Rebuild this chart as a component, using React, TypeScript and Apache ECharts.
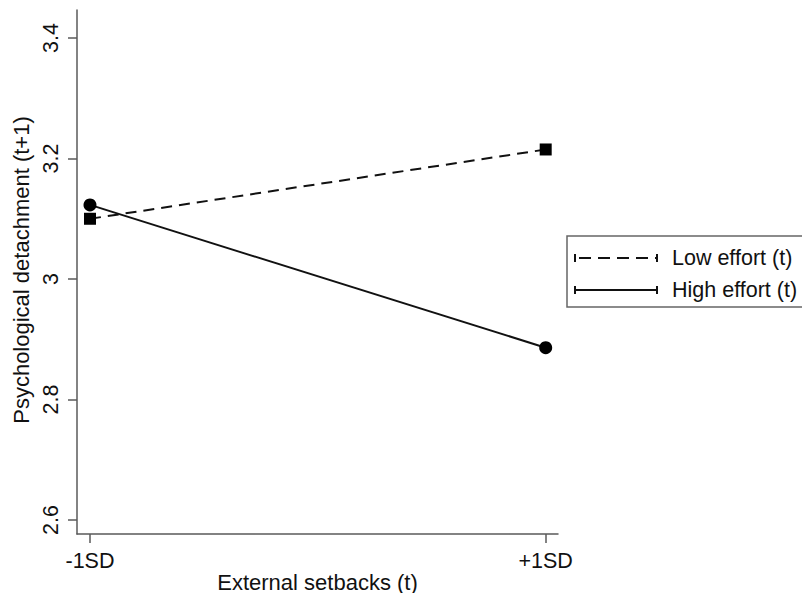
import React, { useEffect, useRef } from "react";
import * as echarts from "echarts";

const categories = ["-1SD", "+1SD"];
const xPositions = [-1, 1];
const yTicks = [2.6, 2.8, 3, 3.2, 3.4];
const lowEffort = [3.1, 3.215];
const highEffort = [3.123, 2.886];
const seriesNames = ["Low effort (t)", "High effort (t)"];

const FONT = "'Liberation Sans', Arial, sans-serif";
const AXIS_COLOR = "#5a5a5a";
const FS = 21.5;

export default function App() {
  const ref = useRef<HTMLDivElement>(null);
  useEffect(() => {
    if (!ref.current) return;
    const chart = echarts.init(ref.current, undefined, { renderer: "svg" });
    const lowData = xPositions.map((x, i) => [x, lowEffort[i]]);
    const highData = xPositions.map((x, i) => [x, highEffort[i]]);
    const legendX0 = 575;
    const legendX1 = 657;
    const legendRows = [258, 290];
    const capH = 8;
    const graphicEls: any[] = [
      {
        type: "rect",
        shape: { x: 567, y: 236, width: 250, height: 71 },
        style: { fill: "#fff", stroke: "#666", lineWidth: 1.5 },
        z: 10,
      },
    ];
    legendRows.forEach((y, i) => {
      graphicEls.push({
        type: "line",
        shape: { x1: legendX0, y1: y, x2: legendX1, y2: y },
        style: {
          stroke: "#111",
          lineWidth: 2,
          lineDash: i === 0 ? [12, 7] : null,
          lineDashOffset: i === 0 ? -4 : 0,
        },
        z: 11,
      });
      graphicEls.push({
        type: "line",
        shape: { x1: legendX0, y1: y - capH / 2, x2: legendX0, y2: y + capH / 2 },
        style: { stroke: "#111", lineWidth: 2 },
        z: 11,
      });
      graphicEls.push({
        type: "line",
        shape: { x1: legendX1, y1: y - capH / 2, x2: legendX1, y2: y + capH / 2 },
        style: { stroke: "#111", lineWidth: 2 },
        z: 11,
      });
      graphicEls.push({
        type: "text",
        x: 672,
        y: y,
        style: {
          text: seriesNames[i],
          font: `${FS}px ${FONT}`,
          fill: "#111",
          textVerticalAlign: "middle",
          verticalAlign: "middle",
        },
        z: 11,
      });
    });

    chart.setOption({
      animation: false,
      backgroundColor: "#fff",
      grid: {
        left: 77,
        right: 244,
        top: 10,
        bottom: 59,
        containLabel: false,
        outerBoundsMode: "none",
      },
      xAxis: {
        type: "value",
        min: -1.057,
        max: 1.054,
        name: "External setbacks (t)",
        nameLocation: "middle",
        nameGap: 37,
        nameMoveOverlap: false,
        nameTextStyle: { fontFamily: FONT, fontSize: 22, color: "#111" },
        axisLine: { show: true, onZero: false, lineStyle: { color: AXIS_COLOR, width: 1.5 } },
        axisTick: {
          show: true,
          length: 9,
          customValues: xPositions,
          lineStyle: { color: AXIS_COLOR, width: 1.5 },
        },
        axisLabel: {
          customValues: xPositions,
          formatter: (v: number) => categories[xPositions.indexOf(Math.round(v))] ?? "",
          fontFamily: FONT,
          fontSize: FS,
          color: "#111",
          margin: 16,
        },
        splitLine: { show: false },
      },
      yAxis: {
        type: "value",
        min: 2.5768,
        max: 3.4465,
        name: "Psychological detachment (t+1)",
        nameLocation: "middle",
        nameGap: 45,
        nameMoveOverlap: false,
        nameTextStyle: { fontFamily: FONT, fontSize: 22, color: "#111", padding: [0, 0, 0, 4] },
        axisLine: { show: true, onZero: false, lineStyle: { color: AXIS_COLOR, width: 1.5 } },
        axisTick: {
          show: true,
          length: 9,
          customValues: yTicks,
          lineStyle: { color: AXIS_COLOR, width: 1.5 },
        },
        axisLabel: {
          customValues: yTicks,
          formatter: (v: number) => String(Math.round(v * 10) / 10),
          rotate: 90,
          fontFamily: FONT,
          fontSize: FS,
          color: "#111",
          margin: 15,
        },
        splitLine: { show: false },
      },
      series: [
        {
          name: seriesNames[0],
          type: "line",
          data: lowData,
          symbol: "rect",
          symbolSize: 12,
          lineStyle: { color: "#111", width: 2, type: [11, 7] },
          itemStyle: { color: "#000" },
          z: 3,
        },
        {
          name: seriesNames[1],
          type: "line",
          data: highData,
          symbol: "circle",
          symbolSize: 13,
          lineStyle: { color: "#111", width: 2, type: "solid" },
          itemStyle: { color: "#000" },
          z: 3,
        },
      ],
      graphic: graphicEls,
    });
    return () => chart.dispose();
  }, []);
  return <div ref={ref} style={{ width: 802, height: 593, position: "absolute", left: 0, top: 0 }} />;
}
